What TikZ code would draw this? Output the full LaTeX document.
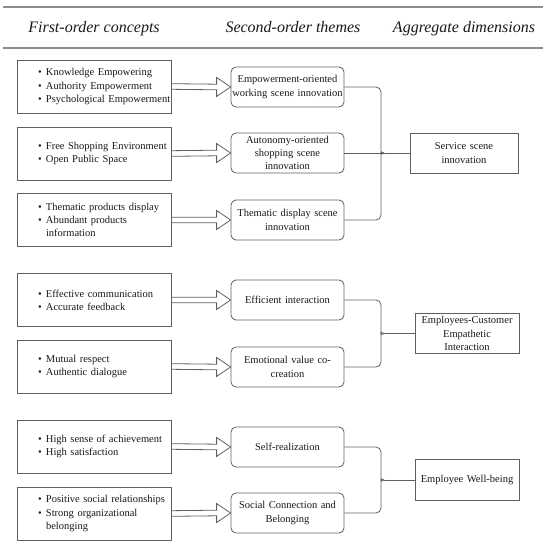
\documentclass[tikz,border=0pt]{standalone}
\usepackage{fontspec}
\setmainfont{Liberation Serif}
\usetikzlibrary{calc}
\definecolor{ln}{RGB}{95,95,95}
\definecolor{hl}{RGB}{140,140,140}
\definecolor{tx}{RGB}{25,25,25}
\newcommand\bul[1]{\hspace*{21pt}\makebox[8pt][l]{•}#1}
\newcommand\cont[1]{\hspace*{29pt}#1}
\newcommand\fatarrow[2]{\draw[fat] ($(#1.east)+(0,-2.8)$) -- ($(#2.west)+(-14,-2.8)$) -- ($(#2.west)+(-14,-9.5)$) -- (#2.west) -- ($(#2.west)+(-14,9.5)$) -- ($(#2.west)+(-14,2.8)$) -- ($(#1.east)+(0,2.8)$);}
\begin{document}
\begin{tikzpicture}[x=1pt,y=-1pt,
  bodyfont/.style={font=\fontsize{10.5}{13.2}\selectfont, text=tx},
  concept/.style={bodyfont, draw=ln, line width=0.8pt, minimum width=154pt, minimum height=53pt, text width=154pt, inner sep=0pt, align=left},
  theme/.style={bodyfont, draw=ln, line width=0.8pt, rounded corners=5pt, minimum width=113pt, minimum height=40pt, text width=113pt, inner sep=0pt, align=center},
  agg/.style={bodyfont, draw=ln, line width=0.8pt, minimum width=104pt, minimum height=40pt, text width=104pt, inner sep=0pt, align=center},
  head/.style={font=\fontsize{16}{19}\selectfont\itshape, text=tx, anchor=base},
  hline/.style={draw=hl, line width=1.4pt},
  conn/.style={draw=ln, line width=0.8pt},
  fat/.style={draw=ln, line width=0.8pt, line join=miter}]
\useasboundingbox (0,0) rectangle (550,546);

% header
\draw[hline] (3,7) -- (543,7);
\draw[hline] (3,48) -- (543,48);
\node[head] (h1) at (94,33) {First-order concepts};
\node[head] (h2) at (293,33) {Second-order themes};
\node[head] (h3) at (464,33) {Aggregate dimensions};

% first-order concepts
\node[concept] (c1) at (94,86.5) {\bul{Knowledge Empowering}\\\bul{Authority Empowerment}\\\bul{Psychological Empowerment}};
\node[concept] (c2) at (94,153.5) {\bul{Free Shopping Environment}\\\bul{Open Public Space}};
\node[concept] (c3) at (94,220) {\bul{Thematic products display}\\\bul{Abundant products}\\\cont{information}};
\node[concept] (c4) at (94,300) {\bul{Effective communication}\\\bul{Accurate feedback}};
\node[concept] (c5) at (94,366.5) {\bul{Mutual respect}\\\bul{Authentic dialogue}};
\node[concept] (c6) at (94,446.5) {\bul{High sense of achievement}\\\bul{High satisfaction}};
\node[concept] (c7) at (94,513.5) {\bul{Positive social relationships}\\\bul{Strong organizational}\\\cont{belonging}};

% second-order themes
\node[theme] (t1) at (287.5,87) {Empowerment-oriented\\working scene innovation};
\node[theme] (t2) at (287.5,153) {Autonomy-oriented\\shopping scene\\innovation};
\node[theme] (t3) at (287.5,220) {Thematic display scene\\innovation};
\node[theme] (t4) at (287.5,300) {Efficient interaction};
\node[theme] (t5) at (287.5,367) {Emotional value co-\\creation};
\node[theme] (t6) at (287.5,447) {Self-realization};
\node[theme] (t7) at (287.5,513) {Social Connection and\\Belonging};

% aggregate dimensions
\node[agg, minimum width=108pt, text width=108pt] (a1) at (464,153) {Service scene\\innovation};
\node[agg] (a2) at (467,333.5) {Employees-Customer\\Empathetic\\Interaction};
\node[agg, minimum height=41pt] (a3) at (467,480) {Employee Well-being};

% fat arrows
\fatarrow{c1}{t1}
\fatarrow{c2}{t2}
\fatarrow{c3}{t3}
\fatarrow{c4}{t4}
\fatarrow{c5}{t5}
\fatarrow{c6}{t6}
\fatarrow{c7}{t7}

% braces
\coordinate (j1) at (384,153);
\coordinate (j2) at (384,333.5);
\coordinate (j3) at (384,480);

\draw[conn, rounded corners=5pt] (t1.east) -| ($(j1)+(-3,-5)$) to[out=-90,in=180] (j1);
\draw[conn, rounded corners=5pt] (t3.east) -| ($(j1)+(-3,5)$) to[out=90,in=180] (j1);
\draw[conn] (t2.east) -- (j1);
\draw[conn] (j1) -- (a1.west);

\draw[conn, rounded corners=5pt] (t4.east) -| ($(j2)+(-3,-5)$) to[out=-90,in=180] (j2);
\draw[conn, rounded corners=5pt] (t5.east) -| ($(j2)+(-3,5)$) to[out=90,in=180] (j2);
\draw[conn] (j2) -- (a2.west);

\draw[conn, rounded corners=5pt] (t6.east) -| ($(j3)+(-3,-5)$) to[out=-90,in=180] (j3);
\draw[conn, rounded corners=5pt] (t7.east) -| ($(j3)+(-3,5)$) to[out=90,in=180] (j3);
\draw[conn] (j3) -- (a3.west);
\end{tikzpicture}
\end{document}
